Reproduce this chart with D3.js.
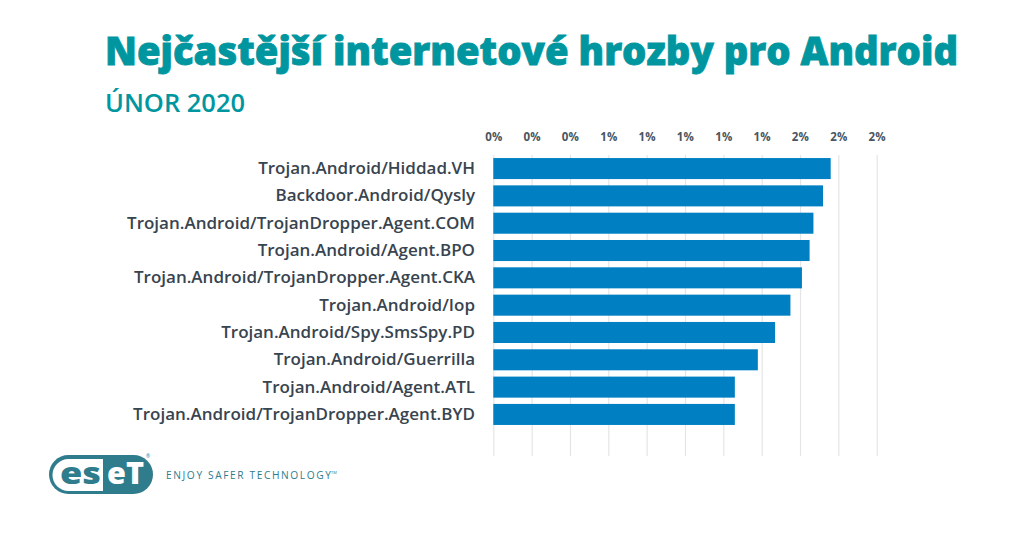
<!DOCTYPE html>
<html>
<head>
<meta charset="utf-8">
<script src="https://cdn.jsdelivr.net/npm/d3@7"></script>
<style>
  html, body { margin: 0; padding: 0; background: #fff; }
  svg { display: block; }
  .grid line { stroke: #e3e5e6; stroke-width: 1.2; }
  .grid path { display: none; }
  .grid text { font: 700 11.5px "Open Sans"; fill: #4a5560; letter-spacing: .2px; }
  .labels path, .labels line { display: none; }
  .labels text { font: 600 17px "Open Sans"; fill: #38444f; }
</style>
</head>
<body>
<div id="chart"></div>
<script>
const categories = [
  'Trojan.Android/Hiddad.VH',
  'Backdoor.Android/Qysly',
  'Trojan.Android/TrojanDropper.Agent.COM',
  'Trojan.Android/Agent.BPO',
  'Trojan.Android/TrojanDropper.Agent.CKA',
  'Trojan.Android/Iop',
  'Trojan.Android/Spy.SmsSpy.PD',
  'Trojan.Android/Guerrilla',
  'Trojan.Android/Agent.ATL',
  'Trojan.Android/TrojanDropper.Agent.BYD'
]
const values = [1.76, 1.72, 1.67, 1.65, 1.61, 1.55, 1.47, 1.38, 1.26, 1.26]
const tickValues = [0, 0.2, 0.4, 0.6, 0.8, 1, 1.2, 1.4, 1.6, 1.8, 2]

const width = 1024
const height = 536
const gridTop = 155
const gridBottom = 456

const svg = d3.select('#chart').append('svg')
  .attr('width', width)
  .attr('height', height)

svg.append('text')
  .attr('x', 105)
  .attr('y', 64.5)
  .style('font', '800 38px "Open Sans"')
  .attr('fill', '#00969f')
  .attr('stroke', '#00969f')
  .attr('stroke-width', 0.8)
  .attr('textLength', 853)
  .attr('lengthAdjust', 'spacingAndGlyphs')
  .text('Nejčastější internetové hrozby pro Android')

svg.append('text')
  .attr('x', 105)
  .attr('y', 112)
  .style('font', '600 25px "Open Sans"')
  .attr('fill', '#00969f')
  .attr('textLength', 140)
  .attr('lengthAdjust', 'spacingAndGlyphs')
  .text('ÚNOR 2020')

const xScale = d3.scaleLinear()
  .domain([0, 2])
  .range([493.3, 876.7])

const yScale = d3.scaleBand()
  .domain(categories)
  .range([154.9, 428.1])
  .paddingInner(0.23)
  .paddingOuter(0.115)

// grid lines and tick labels on top
const grid = svg.append('g')
  .attr('class', 'grid')
  .attr('transform', 'translate(0,' + gridBottom + ')')
  .call(
    d3.axisTop(xScale)
      .tickValues(tickValues)
      .tickSize(gridBottom - gridTop)
      .tickFormat(d => Math.round(d) + '%')
  )
grid.selectAll('text')
  .attr('dy', 0)
  .attr('y', -(gridBottom - 141))

svg.selectAll('.bar')
  .data(values)
  .enter().append('rect')
  .attr('class', 'bar')
  .attr('x', xScale(0))
  .attr('y', (d, i) => yScale(categories[i]))
  .attr('width', d => xScale(d) - xScale(0))
  .attr('height', yScale.bandwidth())
  .attr('fill', '#0080c2')

svg.append('g')
  .attr('class', 'labels')
  .attr('transform', 'translate(483,0)')
  .call(d3.axisLeft(yScale).tickSize(0).tickPadding(8))

// logo
const logo = svg.append('g')
logo.append('rect')
  .attr('x', 49).attr('y', 455)
  .attr('width', 104).attr('height', 39)
  .attr('rx', 19.5)
  .attr('fill', '#2f7c8d')
logo.append('path')
  .attr('d', 'M68.5 459 H103 V491 H68.5 A16 16 0 0 1 68.5 459 Z')
  .attr('fill', '#fff')
logo.append('text')
  .attr('x', 60).attr('y', 483.5)
  .style('font', '900 30px "Open Sans"')
  .attr('fill', '#2f7c8d')
  .attr('textLength', 41)
  .attr('lengthAdjust', 'spacingAndGlyphs')
  .text('es')
logo.append('text')
  .attr('x', 107).attr('y', 483.5)
  .style('font', '900 30px "Open Sans"')
  .attr('fill', '#fff')
  .attr('textLength', 37)
  .attr('lengthAdjust', 'spacingAndGlyphs')
  .text('eT')
logo.append('text')
  .attr('x', 166).attr('y', 478.5)
  .style('font', '400 10.2px "Open Sans"')
  .attr('fill', '#2f7c8d')
  .attr('textLength', 165)
  .text('ENJOY SAFER TECHNOLOGY')
logo.append('text')
  .attr('x', 331).attr('y', 474)
  .style('font', '400 4px "Open Sans"')
  .attr('fill', '#2f7c8d')
  .text('TM')
logo.append('text')
  .attr('x', 146).attr('y', 458)
  .style('font', '400 5px "Open Sans"')
  .attr('fill', '#2f7c8d')
  .text('®')
</script>
</body>
</html>
